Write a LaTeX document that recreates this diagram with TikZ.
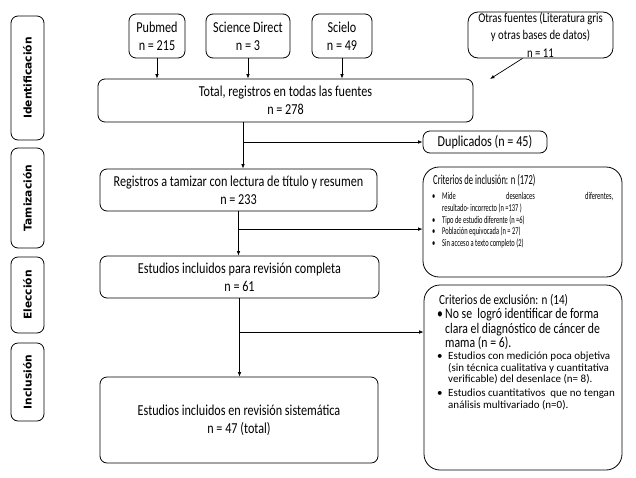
\documentclass[tikz,border=0pt]{standalone}
\usepackage{fontspec}
\setmainfont{Carlito}[FakeStretch=0.8]
\newfontfamily\condfont{Carlito}[FakeStretch=0.62]
\newfontfamily\widefont{Carlito}
\newfontfamily\phasefont{DejaVu Sans}
\usetikzlibrary{arrows.meta,calc}
\newcommand\critem[2]{\par\noindent\hangindent=#1\hangafter=1\makebox[#1][l]{\textbullet}#2}
\tikzset{
  box/.style={draw, line width=0.8pt, rounded corners=7pt, inner sep=0pt, align=center,
    font=\fontsize{15.2}{18}\selectfont},
  phasebox/.style={draw, line width=0.8pt, rounded corners=7pt, inner sep=0pt, rotate=90,
    minimum height=33pt, font=\phasefont\bfseries\fontsize{10.7}{12}\selectfont},
  critbox/.style={draw, line width=0.8pt, rounded corners=16pt, inner sep=0pt},
  crittext/.style={anchor=north west, inner sep=0pt},
  arr/.style={line width=0.7pt, -{Latex[length=4.5pt,width=3.6pt]}},
}
\begin{document}
\begin{tikzpicture}[x=1pt,y=1pt]
\useasboundingbox (0,0) rectangle (636,-477);
% phases
\node[phasebox, minimum width=124pt] (ph1) at (27.5,-78) {Identificación};
\node[phasebox, minimum width=100pt] (ph2) at (27.5,-198) {Tamización};
\node[phasebox, minimum width=76pt] (ph3) at (27.5,-295) {Elección};
\node[phasebox, minimum width=78pt] (ph4) at (27.5,-382) {Inclusión};
% sources
\node[box, minimum width=56pt, minimum height=44pt] (pub) at (157,-36) {Pubmed\\n = 215};
\node[box, minimum width=84pt, minimum height=44pt] (sd) at (248,-36) {Science Direct\\n = 3};
\node[box, minimum width=60pt, minimum height=44pt] (sci) at (342,-36) {Scielo\\n = 49};
\node[box, rounded corners=10pt, minimum width=145pt, minimum height=46pt,
  font=\fontsize{13.4}{17.5}\selectfont] (otras) at (540.5,-35)
  {Otras fuentes (Literatura gris\\y otras bases de datos)\\n = 11};
% main flow
\node[box, minimum width=375pt, minimum height=43pt] (total) at (285.5,-100.5)
  {Total, registros en todas las fuentes\\n = 278};
\node[box, minimum width=124pt, minimum height=22pt] (dup) at (485,-142) {Duplicados (n = 45)};
\node[box, minimum width=277pt, minimum height=42pt] (reg) at (238.5,-190)
  {Registros a tamizar con lectura de título y resumen\\n = 233};
\node[box, minimum width=279pt, minimum height=42pt] (est) at (239.5,-277)
  {Estudios incluidos para revisión completa\\n = 61};
\node[box, minimum width=278pt, minimum height=86pt] (final) at (239,-420)
  {Estudios incluidos en revisión sistemática\\n = 47 (total)};
% criteria boxes
\node[critbox, minimum width=199pt, minimum height=110pt] (incl) at (522.5,-222) {};
\node[critbox, minimum width=198pt, minimum height=185pt] (excl) at (523,-377.5) {};
\node[crittext] (incltxt) at (432,-174.5) {\parbox[t]{181pt}{%
  {\condfont\fontsize{13.8}{15}\selectfont\hspace*{1pt}Criterios de inclusión: n (172)\par}\vskip 3.3pt
  \condfont\fontsize{10.4}{11.7}\selectfont
  \critem{10pt}{Mide desenlaces diferentes,\linebreak resultado- incorrecto (n =137 )}
  \critem{10pt}{Tipo de estudio diferente (n =6)}
  \critem{10pt}{Población equivocada (n = 27)}
  \critem{10pt}{Sin acceso a texto completo (2)}\par}};
\node[crittext] (excltxt) at (437,-294) {\parbox[t]{180pt}{\raggedright
  {\fontsize{13.9}{15}\selectfont\hspace*{2pt}Criterios de exclusión: n (14)\par}\vskip 0pt
  {\fontsize{14.7}{14.5}\selectfont
  \critem{8pt}{No se \ logró identificar de forma\newline clara el diagnóstico de cáncer de\newline mama (n = 6).}\par}
  {\widefont\fontsize{11}{11.7}\selectfont
  \critem{11pt}{Estudios con medición poca objetiva\newline (sin técnica cualitativa y cuantitativa\newline verificable) del desenlace (n= 8).}
  \vskip 2pt
  \critem{11pt}{Estudios cuantitativos \ que no tengan\newline análisis multivariado (n=0).}\par}}};
% connectors
\draw[arr] (pub.south) -- (pub.south |- total.north);
\draw[arr] (sd.south) -- (sd.south |- total.north);
\draw[arr] (sci.south) -- (sci.south |- total.north);
\coordinate (oend) at (490,-79);
\draw[arr] ([xshift=-18pt]otras.south) -- (oend);
\coordinate (t1) at ([xshift=-42.5pt]total.south);
\draw[arr] (t1) -- (t1 |- reg.north);
\draw[arr] (t1 |- dup.west) -- (dup.west);
\draw[arr] (reg.south) -- (reg.south |- est.north);
\coordinate (b2) at ($(reg.south)!0.4!(reg.south |- est.north)$);
\draw[arr] (b2) -- (b2 -| incl.west);
\draw[arr] (est.south) -- (est.south |- final.north);
\coordinate (b3) at ($(est.south)!0.43!(est.south |- final.north)$);
\draw[arr] (b3) -- (b3 -| excl.west);
\end{tikzpicture}
\end{document}
